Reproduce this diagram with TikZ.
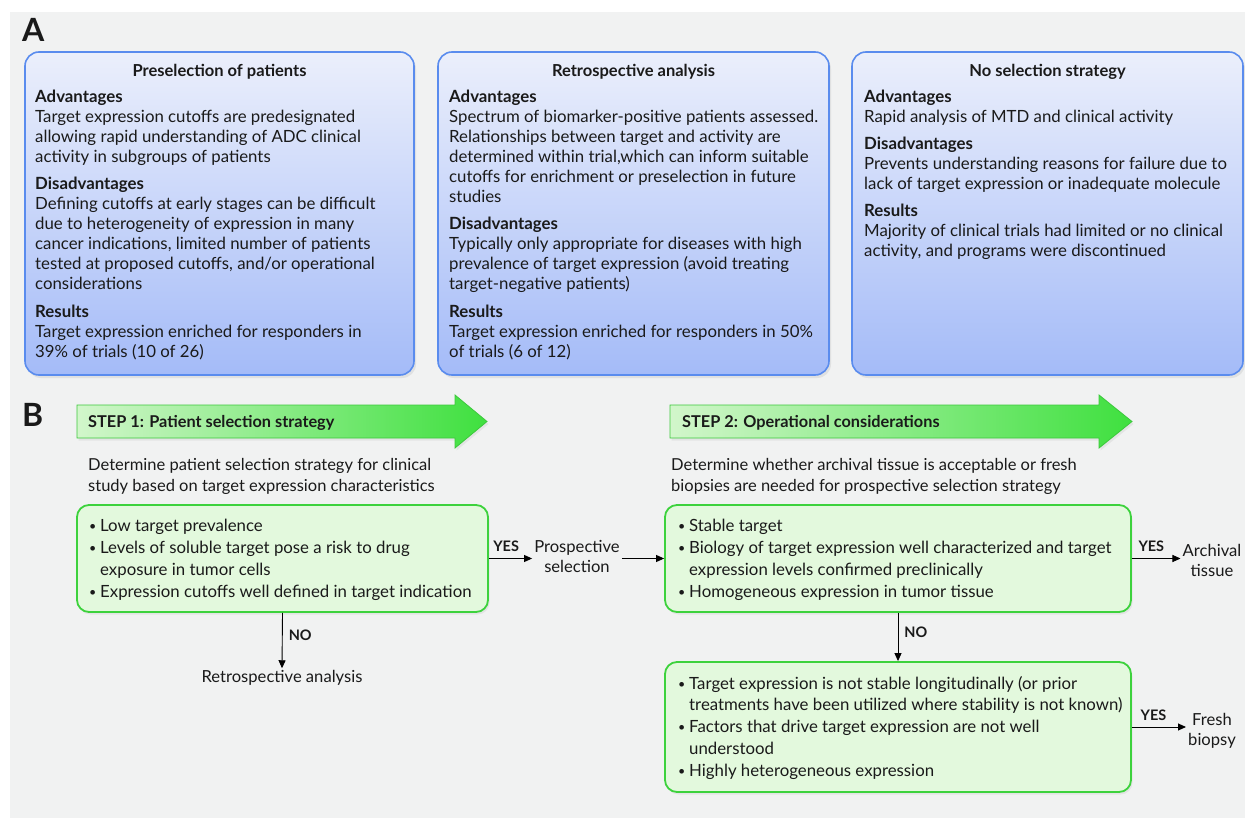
\documentclass[tikz,border=0pt]{standalone}
\usepackage{fontspec}
\setmainfont{Lato}
\usetikzlibrary{arrows.meta,shadows}
\definecolor{bgc}{HTML}{F1F2F2}
\definecolor{boxtop}{HTML}{EBEFFB}
\definecolor{boxbot}{HTML}{A4BBF8}
\definecolor{boxline}{HTML}{5A8CEE}
\definecolor{gfill}{HTML}{E3F9DD}
\definecolor{gline}{HTML}{3DD23D}
\definecolor{aleft}{HTML}{D2F6CB}
\definecolor{aright}{HTML}{3FE03F}
\definecolor{aline}{HTML}{3CC83C}
\definecolor{txt}{HTML}{1A1A1A}
\newcommand\vblock[3]{\vtop{\hsize=#1pt\parindent=0pt\parskip=0pt\leftskip=0pt\rightskip=0pt plus 1fil\baselineskip=#2pt\lineskiplimit=-30pt #3\par}}
\newcommand\bul{\makebox[11pt][l]{\raisebox{1pt}{\fontsize{12.5}{12}\selectfont\textbullet}}}
\newcommand\cont{\hspace*{11pt}}
\begin{document}
\begin{tikzpicture}[x=1pt,y=-1pt,
  every node/.style={text=txt, inner sep=0pt},
  body/.style={font=\fontsize{16.8}{20}\selectfont, anchor=base west},
  desc/.style={font=\fontsize{16.5}{20}\selectfont, anchor=base west},
  ttl/.style={font=\fontsize{16.5}{20}\selectfont\bfseries, anchor=base},
  panel/.style={font=\fontsize{32}{32}\selectfont\bfseries, anchor=base west},
  topbox/.style={draw=boxline, line width=1.6pt, rounded corners=14pt, top color=boxtop, bottom color=boxbot,
    drop shadow={shadow xshift=2pt, shadow yshift=-3pt, opacity=0.15}},
  gbox/.style={draw=gline, line width=1.8pt, rounded corners=12pt, fill=gfill,
    drop shadow={shadow xshift=1.5pt, shadow yshift=-2.5pt, opacity=0.12}},
  steparrow/.style={draw=aline, line width=0.8pt, left color=aleft, right color=aright,
    drop shadow={shadow xshift=1.5pt, shadow yshift=-2.5pt, opacity=0.12}},
  steplbl/.style={font=\fontsize{16.3}{18}\selectfont\bfseries, anchor=base west},
  side/.style={font=\fontsize{16.6}{20}\selectfont, align=center, inner sep=2pt},
  yn/.style={font=\fontsize{14.5}{16}\selectfont\bfseries, inner sep=1pt},
  conn/.style={line width=0.9pt, -{Triangle[length=8pt,width=7pt]}}
]
\useasboundingbox (0,0) rectangle (1245,818);
\fill[white] (0,0) rectangle (1245,818);
\fill[bgc] (10,12) rectangle (1245,818);

% ---------- Panel A ----------
\node[panel] (lblA) at (22,42) {A};

\node[topbox, minimum width=389pt, minimum height=323pt] (boxA) at (219.5,213.5) {};
\node[topbox, minimum width=391pt, minimum height=323pt] (boxB) at (633.5,213.5) {};
\node[topbox, minimum width=391pt, minimum height=323pt] (boxC) at (1047.5,213.5) {};

\node[ttl] (tA) at (boxA.center |- 0,77) {Preselection of patients};
\node[ttl] (tB) at (boxB.center |- 0,77) {Retrospective analysis};
\node[ttl] (tC) at (boxC.center |- 0,77) {No selection strategy};

\node[body] (cA) at (35,102.5) {\vblock{380}{20}{%
\textbf{Advantages}\\
Target expression cutoffs are predesignated\\
allowing rapid understanding of ADC clinical\\
activity in subgroups of patients\par\vspace{7pt}
\textbf{Disadvantages}\\
Defining cutoffs at early stages can be difficult\\
due to heterogeneity of expression in many\\
cancer indications, limited number of patients\\
tested at proposed cutoffs, and/or operational\\
considerations\par\vspace{8pt}
\textbf{Results}\\
Target expression enriched for responders in\\
39\% of trials (10 of 26)}};

\node[body] (cB) at (449,102.5) {\vblock{380}{20}{%
\textbf{Advantages}\\
Spectrum of biomarker-positive patients assessed.\\
Relationships between target and activity are\\
determined within trial,which can inform suitable\\
cutoffs for enrichment or preselection in future\\
studies\par\vspace{7pt}
\textbf{Disadvantages}\\
Typically only appropriate for diseases with high\\
prevalence of target expression (avoid treating\\
target-negative patients)\par\vspace{8pt}
\textbf{Results}\\
Target expression enriched for responders in 50\%\\
of trials (6 of 12)}};

\node[body] (cC) at (864,102.5) {\vblock{380}{20}{%
\textbf{Advantages}\\
Rapid analysis of MTD and clinical activity\par\vspace{7pt}
\textbf{Disadvantages}\\
Prevents understanding reasons for failure due to\\
lack of target expression or inadequate molecule\par\vspace{7pt}
\textbf{Results}\\
Majority of clinical trials had limited or no clinical\\
activity, and programs were discontinued}};

% ---------- Panel B ----------
\node[panel] (lblB) at (22,426) {B};

\path[steparrow] (77,405) -- (455,405) -- (455,395) -- (487,421.5) -- (455,448) -- (455,438) -- (77,438) -- cycle;
\path[steparrow] (670,405) -- (1099,405) -- (1099,395) -- (1132,421.5) -- (1099,448) -- (1099,438) -- (670,438) -- cycle;
\node[steplbl] (s1) at (88,427) {STEP 1: Patient selection strategy};
\node[steplbl] (s2) at (682,427) {STEP 2: Operational considerations};

\node[desc] (d1) at (88,470.5) {\vblock{440}{20.5}{%
Determine patient selection strategy for clinical\\
study based on target expression characteristics}};
\node[desc] (d2) at (671,470.5) {\vblock{480}{20.5}{%
Determine whether archival tissue is acceptable or fresh\\
biopsies are needed for prospective selection strategy}};

\node[gbox, minimum width=411pt, minimum height=107pt] (g1) at (282.5,558.5) {};
\node[gbox, minimum width=466pt, minimum height=107pt] (g2) at (898,558.5) {};
\node[gbox, minimum width=466pt, minimum height=130pt] (g3) at (898,727) {};

\node[body] (b1) at (89,531.5) {\vblock{400}{21.9}{%
\bul Low target prevalence\\
\bul Levels of soluble target pose a risk to drug\\
\cont exposure in tumor cells\\
\bul Expression cutoffs well defined in target indication}};

\node[body] (b2) at (678,531.5) {\vblock{460}{21.9}{%
\bul Stable target\\
\bul Biology of target expression well characterized and target\\
\cont expression levels confirmed preclinically\\
\bul Homogeneous expression in tumor tissue}};

\node[body] (b3) at (678,689) {\vblock{460}{21.8}{%
\bul Target expression is not stable longitudinally (or prior\\
\cont treatments have been utilized where stability is not known)\\
\bul Factors that drive target expression are not well\\
\cont understood\\
\bul Highly heterogeneous expression}};

\node[side] (prosp) at (577,556) {Prospective\\selection};
\node[side] (retro) at (282,678) {Retrospective analysis};
\node[side] (arch) at (1212,560.5) {Archival\\tissue};
\node[side] (fresh) at (1212,730.5) {Fresh\\biopsy};

\draw[conn] (g1.east) -- node[yn, above=5pt, pos=0.4] (y1) {YES} (g1.east -| prosp.west);
\draw[conn] (prosp.east |- g2.west) -- (g2.west);
\draw[conn] (g2.east) -- node[yn, above=5pt, pos=0.4] (y2) {YES} (g2.east -| arch.west);
\draw[conn] (g3.east |- 0,727) -- node[yn, above=5pt, pos=0.4] (y3) {YES} (fresh.west |- 0,727);
\draw[conn] (g1.south) -- node[yn, right=5pt, pos=0.4] (n1) {NO} (retro.north);
\draw[conn] (g2.south) -- node[yn, right=5pt, pos=0.4] (n2) {NO} (g3.north);
\end{tikzpicture}
\end{document}
